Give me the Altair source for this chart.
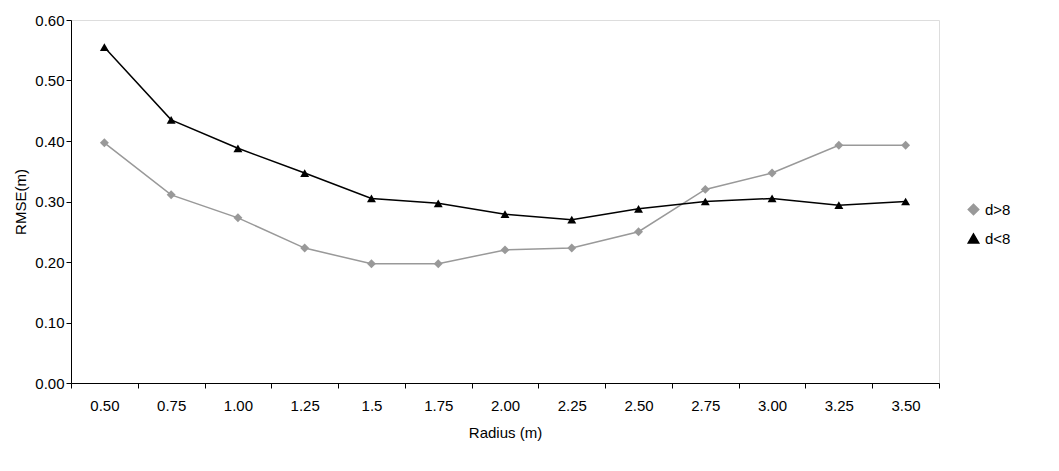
import altair as alt
import pandas as pd

radius = ["0.50", "0.75", "1.00", "1.25", "1.5", "1.75", "2.00", "2.25", "2.50", "2.75", "3.00", "3.25", "3.50"]
d_gt8 = [0.397, 0.311, 0.273, 0.223, 0.197, 0.197, 0.220, 0.223, 0.250, 0.320, 0.347, 0.393, 0.393]
d_lt8 = [0.555, 0.435, 0.388, 0.347, 0.305, 0.297, 0.279, 0.270, 0.288, 0.300, 0.305, 0.294, 0.300]

df = pd.concat([
    pd.DataFrame({"Radius": radius, "RMSE": d_gt8, "series": "d>8"}),
    pd.DataFrame({"Radius": radius, "RMSE": d_lt8, "series": "d<8"}),
])

color = alt.Color("series:N", sort=["d>8", "d<8"],
                  scale=alt.Scale(domain=["d>8", "d<8"], range=["#999999", "#000000"]),
                  legend=alt.Legend(title=None, labelFontSize=15, symbolSize=110, rowPadding=12,
                                    orient="none", legendX=895, legendY=182))
shape = alt.Shape("series:N", sort=["d>8", "d<8"],
                  scale=alt.Scale(domain=["d>8", "d<8"], range=["diamond", "triangle-up"]))

chart = alt.Chart(df).mark_line(point=alt.OverlayMarkDef(size=80, filled=True, opacity=1), strokeWidth=1.5).encode(
    alt.X("Radius:N", sort=radius, title="Radius (m)",
          scale=alt.Scale(paddingInner=0, paddingOuter=0),
          axis=alt.Axis(labelAngle=0, tickBand="extent", labelFontSize=15, titleFontSize=15,
                        titleFontWeight="normal", titlePadding=12, labelPadding=10,
                        domainColor="black", tickColor="black", labelColor="black", titleColor="black")),
    alt.Y("RMSE:Q", title="RMSE(m)", scale=alt.Scale(domain=[0, 0.6]),
          axis=alt.Axis(format=".2f", values=[0, 0.1, 0.2, 0.3, 0.4, 0.5, 0.6], grid=False,
                        labelFontSize=15, titleFontSize=15, titleFontWeight="normal", titlePadding=6,
                        domainColor="black", tickColor="black", labelColor="black", titleColor="black")),
    color=color,
    shape=shape,
).properties(width=868, height=363).configure_view(stroke="#888888").configure(
    font="Liberation Sans")

chart.save("out.html", embed_options={"renderer": "svg", "actions": False})
